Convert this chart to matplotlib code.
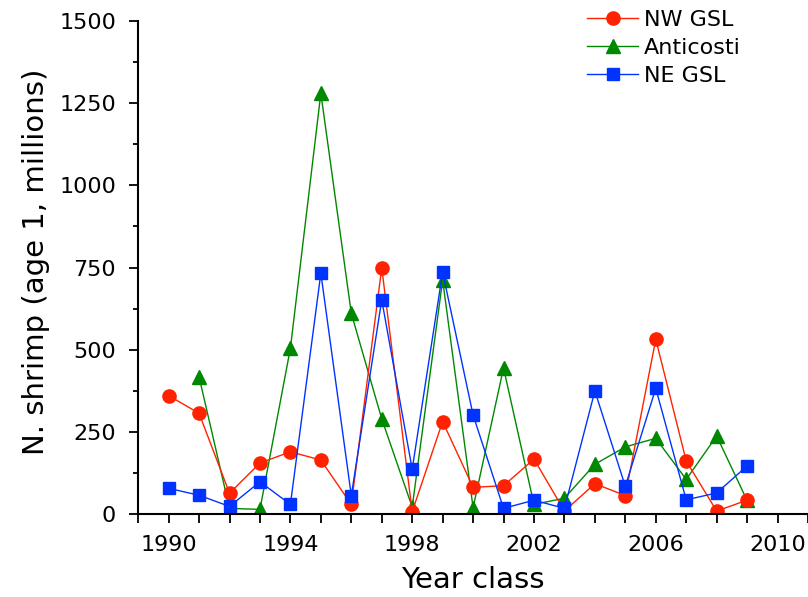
import numpy as np
import matplotlib.pyplot as plt
from matplotlib.ticker import MultipleLocator

# Year classes and abundance (millions of age-1 shrimp) per region
years = np.arange(1990, 2010)
nw_gsl = [361, 307, 64, 156, 190, 165, 30, 749, 8, 282,
          82, 87, 168, 10, 93, 57, 532, 162, 10, 43]
ne_gsl = [79, 58, 24, 99, 30, 733, 57, 652, 137, 736,
          302, 18, 43, 18, 375, 85, 383, 44, 65, 147]

# Anticosti series starts in 1991
anti_years = np.arange(1991, 2010)
anticosti = [418, 18, 15, 505, 1280, 611, 290, 22, 712, 20,
             445, 30, 49, 152, 205, 231, 106, 238, 42]

red = '#ff2200'
green = '#008800'
blue = '#0033ff'

fig = plt.figure(figsize=(8.08, 5.97), dpi=100)
ax = fig.add_axes([0.171, 0.1385, 0.829, 0.8265])

# green underneath, then red, blue on top
l_anti, = ax.plot(anti_years, anticosti, '-^', color=green, lw=1.0, ms=10, label='Anticosti')
l_nw, = ax.plot(years, nw_gsl, '-o', color=red, lw=1.0, ms=9.5, label='NW GSL')
l_ne, = ax.plot(years, ne_gsl, '-s', color=blue, lw=1.0, ms=8, label='NE GSL')

ax.set_xlim(1989, 2011)
ax.set_ylim(0, 1500)
ax.xaxis.set_major_locator(MultipleLocator(4))
ax.xaxis.set_minor_locator(MultipleLocator(1))
ax.yaxis.set_major_locator(MultipleLocator(250))
ax.yaxis.set_minor_locator(MultipleLocator(125))
ax.set_xticks(np.arange(1990, 2011, 4))

for s in ('top', 'right'):
    ax.spines[s].set_visible(False)
for s in ('left', 'bottom'):
    ax.spines[s].set_linewidth(1.5)

ax.tick_params(axis='both', which='both', direction='out', width=1.3, labelsize=16)
ax.tick_params(axis='y', which='major', length=6.5, pad=9.5)
ax.tick_params(axis='y', which='minor', length=3.5)
ax.tick_params(axis='x', which='both', length=6.5, pad=8.5)

ax.set_xlabel('Year class', fontsize=21, labelpad=8)
ax.set_ylabel('N. shrimp (age 1, millions)', fontsize=21)
ax.yaxis.set_label_coords(-0.132, 0.511)

fig.legend(handles=[l_nw, l_anti, l_ne], loc='upper left',
           bbox_to_anchor=(0.7265, 0.983), frameon=False,
           fontsize=16, handlelength=2.3, handletextpad=0.25, labelspacing=0.36,
           borderaxespad=0, borderpad=0)

fig.savefig('out.png', dpi=100)
